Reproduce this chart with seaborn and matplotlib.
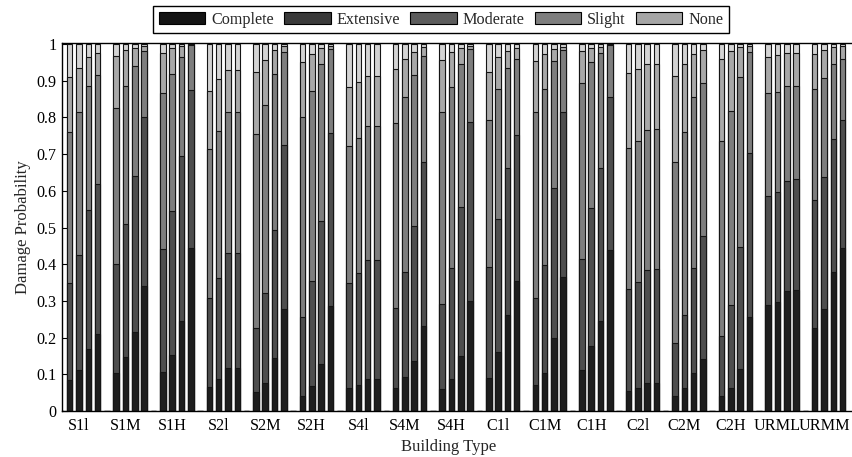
import numpy as np
import pandas as pd
import matplotlib
matplotlib.use("Agg")
import matplotlib.pyplot as plt
from matplotlib.patches import Patch
import seaborn as sns

building_types = ["S1l", "S1M", "S1H", "S2l", "S2M", "S2H", "S4l", "S4M", "S4H",
                  "C1l", "C1M", "C1H", "C2l", "C2M", "C2H", "URML", "URMM"]
scenarios = ["s1", "s2", "s3", "s4"]
state_names = ["Complete", "Extensive", "Moderate", "Slight", "None"]

# cumulative probabilities (bar boundaries), 4 scenarios per building type
p_complete = [
    [.084, .112, .169, .209], [.103, .146, .215, .340], [.105, .153, .244, .444],
    [.066, .087, .118, .118], [.051, .077, .144, .278], [.041, .068, .127, .285],
    [.062, .071, .087, .087], [.062, .094, .136, .232], [.059, .087, .150, .300],
    [.091, .160, .262, .353], [.071, .103, .200, .365], [.112, .177, .245, .439],
    [.055, .062, .075, .077], [.041, .062, .103, .141], [.041, .062, .115, .255],
    [.289, .296, .327, .331], [.227, .277, .378, .444]]
p_extensive = [
    [.350, .425, .548, .618], [.400, .509, .640, .800], [.441, .544, .694, .875],
    [.307, .362, .430, .430], [.227, .321, .494, .725], [.255, .353, .518, .759],
    [.350, .375, .411, .411], [.282, .378, .503, .678], [.291, .389, .555, .787],
    [.393, .523, .662, .753], [.307, .398, .607, .816], [.415, .553, .662, .855],
    [.333, .352, .385, .387], [.185, .262, .391, .478], [.205, .289, .447, .703],
    [.586, .596, .628, .631], [.575, .639, .741, .794]]
p_moderate = [
    [.760, .816, .885, .916], [.825, .887, .940, .980], [.866, .919, .966, .997],
    [.714, .762, .816, .816], [.755, .835, .918, .978], [.800, .873, .945, .987],
    [.723, .744, .776, .776], [.785, .857, .916, .967], [.816, .883, .945, .987],
    [.794, .877, .935, .960], [.815, .877, .953, .985], [.894, .951, .975, .997],
    [.718, .736, .766, .769], [.678, .760, .855, .895], [.737, .818, .909, .978],
    [.866, .869, .887, .887], [.878, .907, .945, .960]]
p_slight = [
    [.910, .935, .965, .975], [.968, .984, .990, .995], [.975, .989, .994, .999],
    [.873, .905, .930, .930], [.925, .957, .985, .994], [.951, .973, .989, .996],
    [.883, .898, .913, .913], [.932, .960, .978, .991], [.957, .978, .989, .994],
    [.925, .964, .982, .989], [.955, .974, .987, .993], [.982, .989, .993, .999],
    [.922, .933, .945, .945], [.913, .945, .974, .985], [.960, .980, .992, .996],
    [.964, .969, .975, .975], [.973, .985, .992, .995]]

bar_colors = ["#1e1e1e", "#4e4e4e", "#7e7e7e", "#a8a8a8", "#d4d4d4"]
legend_colors = ["#141414", "#3a3a3a", "#5c5c5c", "#7e7e7e", "#a6a6a6"]

# build long table; a leading empty series (zero height) as in the original grouped bars
rows = []
hue_order = ["empty"] + scenarios
for i, bt in enumerate(building_types):
    rows.append(dict(type=bt, scen="empty", Complete=0.0, Extensive=0.0,
                     Moderate=0.0, Slight=0.0, Total=0.0))
    for j, sc in enumerate(scenarios):
        rows.append(dict(type=bt, scen=sc,
                         Complete=p_complete[i][j], Extensive=p_extensive[i][j],
                         Moderate=p_moderate[i][j], Slight=p_slight[i][j], Total=1.0))
df = pd.DataFrame(rows)

sns.set_style("ticks")
plt.rcParams["font.family"] = ["Liberation Serif", "DejaVu Serif"]

W, H = 853, 457
fig = plt.figure(figsize=(W / 100, H / 100), dpi=100)
ax = fig.add_axes([62 / W, 1 - 411 / H, 800 / W, (411 - 43) / H])

levels = [("Total", bar_colors[4]), ("Slight", bar_colors[3]), ("Moderate", bar_colors[2]),
          ("Extensive", bar_colors[1]), ("Complete", bar_colors[0])]
for col, colr in levels:
    sns.barplot(data=df, x="type", y=col, hue="scen", hue_order=hue_order,
                order=building_types, palette=[colr] * 5, width=1.0, gap=0.4,
                saturation=1, edgecolor="#151515", linewidth=0.8,
                errorbar=None, legend=False, ax=ax)

ax.set_xlim(-0.365, 16.816)
ax.set_ylim(0, 1.003)
ax.set_yticks(np.arange(0, 1.01, 0.1))
ax.set_yticklabels(["0"] + [f"{v:.1f}" for v in np.arange(0.1, 0.95, 0.1)] + ["1"])
ax.set_xticks(range(len(building_types)))
ax.set_xticklabels(building_types)
ax.tick_params(axis="both", direction="in", length=4, width=0.8, labelsize=11.6,
               colors="black")
ax.tick_params(axis="x", top=True, pad=5)
ax.tick_params(axis="y", pad=4)
for s in ax.spines.values():
    s.set_linewidth(1.0)
    s.set_color("black")

ax.set_ylabel("Damage Probability", fontsize=12, labelpad=4)
ax.set_xlabel("Building Type", fontsize=12)
ax.xaxis.set_label_coords((449 - 62) / 800, -0.075)

handles = [Patch(facecolor=c, edgecolor="black", linewidth=0.8) for c in legend_colors]
leg = fig.legend(handles, state_names, loc="upper center",
                 bbox_to_anchor=(441 / W, 1 - 6 / H), ncol=5, frameon=True,
                 fancybox=False, edgecolor="black", framealpha=1, fontsize=11.6,
                 handlelength=2.9, handleheight=0.75, handletextpad=0.37,
                 columnspacing=0.62, borderpad=0.35, borderaxespad=0)
leg.get_frame().set_linewidth(1.0)

fig.savefig("out.png", dpi=100)
